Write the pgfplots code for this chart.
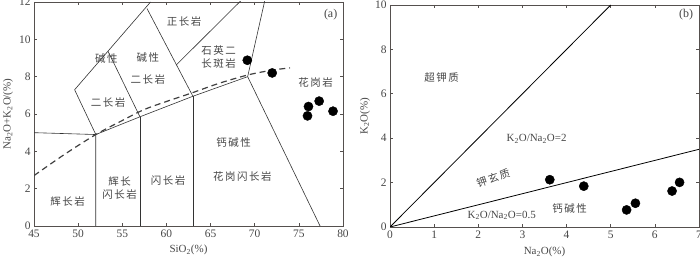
\documentclass[border=0pt]{standalone}
\usepackage{pgfplots}
\pgfplotsset{compat=1.18}
\usepackage{fontspec}
\setmainfont{Liberation Serif}
\newfontfamily\cjk[LetterSpace=15]{Noto Sans CJK SC}
\definecolor{frame}{RGB}{85,80,78}
\definecolor{txt}{RGB}{70,70,70}
\tikzset{zh/.style={font=\cjk\fontsize{10.5}{13}\selectfont, text=txt, align=center}}
\begin{document}
\begin{tikzpicture}
\useasboundingbox (0bp,0bp) rectangle (700bp,258bp);
\pgfplotsset{
  every axis/.append style={
    scale only axis,
    axis line style={frame, line width=0.8bp},
    tick align=inside,
    major tick length=3bp,
    tick style={frame, line width=0.6bp},
    /pgf/number format/assume math mode=true,
    tick label style={font=\fontsize{11.5}{13}\selectfont, text=txt},
    label style={font=\fontsize{11}{13}\selectfont, text=txt},
    clip=true,
  },
}
% ---------- (a) ----------
\begin{axis}[
  at={(34bp,32bp)}, anchor=south west,
  width=309bp, height=224bp,
  xmin=45, xmax=80, ymin=0, ymax=12,
  xtick={45,50,...,80}, ytick={0,2,...,12},
  xlabel={SiO\textsubscript{2}(\%)},
  ylabel={Na\textsubscript{2}O+K\textsubscript{2}O/(\%)},
  xlabel style={at={(axis description cs:0.5,-0.107)}, anchor=center},
  ylabel style={at={(axis description cs:-0.084,0.5)}, anchor=center},
]
\addplot[black!80, line width=0.6bp] coordinates {(45,5.0) (52,4.9)};
\addplot[black!80, line width=0.6bp] coordinates {(52,0) (52,4.9) (57,5.85) (63,6.95) (69.2,8.0) (77.4,0)};
\addplot[black!80, line width=0.6bp] coordinates {(57,0) (57,5.85)};
\addplot[black!80, line width=0.6bp] coordinates {(63,0) (63,6.95)};
\addplot[black!80, line width=0.6bp] coordinates {(69.2,8.0) (71.2,12.2)};
\addplot[black!80, line width=0.6bp] coordinates {(52,4.9) (49.6,7.3) (58.2,12.0)};
\addplot[black!80, line width=0.6bp] coordinates {(57.8,11.65) (63,6.95)};
\addplot[black!80, line width=0.6bp] coordinates {(53.4,9.35) (57,5.85)};
\addplot[black!80, line width=0.6bp] coordinates {(61.1,8.62) (68.5,12.1)};
\addplot[black!75, line width=1.2bp, dash pattern=on 6bp off 4bp, smooth] coordinates {
  (45,2.7) (48.5,3.85) (52,4.9) (55,5.65) (57.8,6.3) (63,7.15) (66,7.65) (69.3,8.1) (72,8.35) (74,8.47)};
\addplot[only marks, mark=*, mark size=4.6bp, mark options={fill=black, draw=black}] coordinates {
  (69.16,8.88) (71.98,8.2) (76.09,6.4) (75.98,5.9) (77.3,6.69) (78.87,6.15)};
\node[zh] at (axis cs:62.0,10.98) {正长岩};
\node[zh] at (axis cs:53.2,8.97) {碱性};
\node[zh] at (axis cs:57.9,9.02) {碱性};
\node[zh] at (axis cs:57.9,7.86) {二长岩};
\node[zh] at (axis cs:65.9,9.06) {石英二\\长斑岩};
\node[zh] at (axis cs:53.4,6.62) {二长岩};
\node[zh] at (axis cs:76.9,7.69) {花岗岩};
\node[zh] at (axis cs:67.6,4.46) {钙碱性};
\node[zh] at (axis cs:68.6,2.64) {花岗闪长岩};
\node[zh] at (axis cs:60.2,2.46) {闪长岩};
\node[zh] at (axis cs:54.7,2.02) {辉长\\闪长岩};
\node[zh] at (axis cs:48.8,1.30) {辉长岩};
\node[font=\fontsize{12}{13}\selectfont, text=txt] at (axis cs:78.6,11.34) {(a)};
\end{axis}
% ---------- (b) ----------
\begin{axis}[
  at={(390bp,31bp)}, anchor=south west,
  width=309bp, height=222bp,
  xmin=0, xmax=7, ymin=0, ymax=10,
  xtick={0,1,...,7}, ytick={0,2,...,10},
  xlabel={Na\textsubscript{2}O(\%)},
  ylabel={K\textsubscript{2}O(\%)},
  xlabel style={at={(axis description cs:0.5,-0.113)}, anchor=center},
  ylabel style={at={(axis description cs:-0.081,0.5)}, anchor=center},
]
\addplot[black, line width=0.8bp] coordinates {(0,0) (5,10)};
\addplot[black, line width=0.8bp] coordinates {(0,0) (7,3.5)};
\addplot[only marks, mark=*, mark size=4.6bp, mark options={fill=black, draw=black}] coordinates {
  (3.62,2.13) (4.39,1.84) (5.36,0.77) (5.56,1.07) (6.39,1.62) (6.56,2.01)};
\node[zh] at (axis cs:1.17,6.74) {超钾质};
\node[font=\fontsize{11}{13}\selectfont, text=txt] at (axis cs:3.32,3.98) {K\textsubscript{2}O/Na\textsubscript{2}O=2};
\node[zh, rotate=18] at (axis cs:2.34,2.2) {钾玄质};
\node[zh] at (axis cs:4.07,0.83) {钙碱性};
\node[font=\fontsize{11}{13}\selectfont, text=txt] at (axis cs:2.53,0.53) {K\textsubscript{2}O/Na\textsubscript{2}O=0.5};
\node[font=\fontsize{12}{13}\selectfont, text=txt] at (axis cs:6.71,9.55) {(b)};
\end{axis}
\end{tikzpicture}
\end{document}
